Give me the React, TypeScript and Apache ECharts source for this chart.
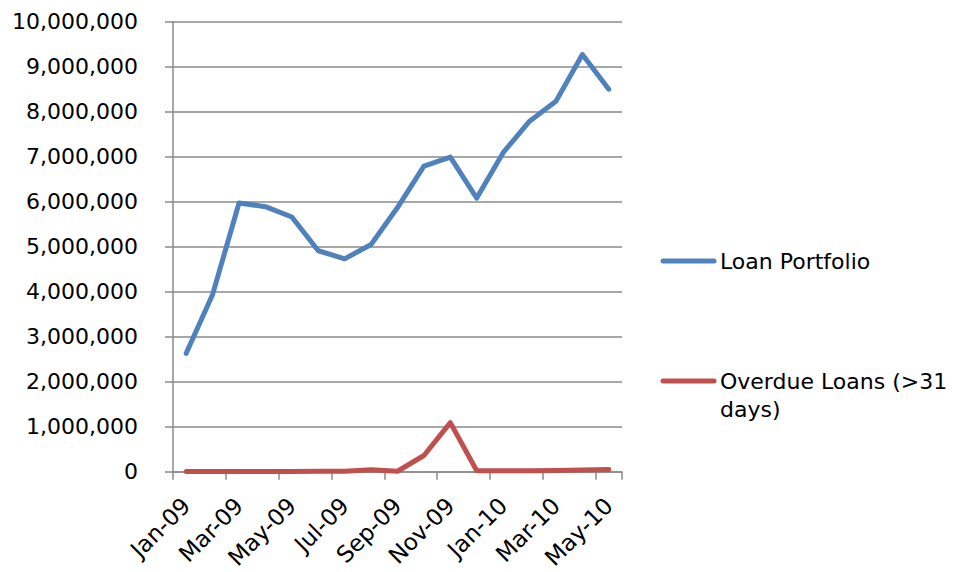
import React, { useEffect, useRef } from "react";
import * as echarts from "echarts";

const months = [
  "Jan-09", "Feb-09", "Mar-09", "Apr-09", "May-09", "Jun-09", "Jul-09", "Aug-09", "Sep-09",
  "Oct-09", "Nov-09", "Dec-09", "Jan-10", "Feb-10", "Mar-10", "Apr-10", "May-10",
];

const loanPortfolio = [
  2630000, 3940000, 5970000, 5890000, 5660000, 4910000, 4730000, 5050000, 5870000,
  6790000, 6990000, 6080000, 7090000, 7790000, 8230000, 9270000, 8500000,
];

const overdueLoans = [
  5000, 5000, 5000, 5000, 5000, 8000, 10000, 45000, 10000,
  360000, 1090000, 20000, 20000, 22000, 25000, 38000, 50000,
];

const seriesNames = ["Loan Portfolio", "Overdue Loans (>31 days)"];
const legendLines = [["Loan Portfolio"], ["Overdue Loans (>31", "days)"]];
const seriesColors = ["#4F81BD", "#C0504D"];

const FONT = "'DejaVu Sans', Verdana, sans-serif";
const FONT_SIZE = 22;
const GRID_GRAY = "#8a8a8a";

export default function App() {
  const ref = useRef<HTMLDivElement>(null);

  useEffect(() => {
    if (!ref.current) return;
    const chart = echarts.init(ref.current, null, { renderer: "svg" });

    // Hand-placed legend entries: swatch line plus wrapped label lines,
    // with the swatch aligned to the first text line.
    const legendTops = [261, 381];
    const lineStep = 28;
    const legendGraphics = seriesNames.map((name, i) => ({
      type: "group",
      id: "legend-" + i,
      children: [
        {
          type: "line",
          shape: { x1: 663, y1: legendTops[i], x2: 714, y2: legendTops[i] },
          style: { stroke: seriesColors[i], lineWidth: 5, lineCap: "round" },
        },
        ...legendLines[i].map((txt, j) => ({
          type: "text",
          x: 720,
          y: legendTops[i] + j * lineStep,
          style: {
            text: txt,
            fontFamily: FONT,
            fontSize: FONT_SIZE,
            fill: "#000",
            textAlign: "left",
            textVerticalAlign: "middle",
          },
        })),
      ],
    }));

    chart.setOption({
      animation: false,
      backgroundColor: "#fff",
      textStyle: { fontFamily: FONT },
      grid: { left: 173, right: 333, top: 21.7, bottom: 100.3, containLabel: false },
      graphic: legendGraphics,
      xAxis: {
        type: "category",
        data: months,
        boundaryGap: true,
        axisLine: { show: true, lineStyle: { color: GRID_GRAY, width: 1.5 } },
        axisTick: { show: true, interval: 1, length: 8, lineStyle: { color: GRID_GRAY, width: 1.5 } },
        axisLabel: {
          interval: 1,
          rotate: 45,
          margin: 30,
          fontFamily: FONT,
          fontSize: 23,
          color: "#000",
        },
        splitLine: { show: false },
      },
      yAxis: {
        type: "value",
        min: 0,
        max: 10000000,
        interval: 1000000,
        axisLine: { show: true, lineStyle: { color: GRID_GRAY, width: 1.5 } },
        axisTick: { show: true, length: 8, lineStyle: { color: GRID_GRAY, width: 1.5 } },
        axisLabel: {
          margin: 35,
          fontFamily: FONT,
          fontSize: FONT_SIZE,
          color: "#000",
          formatter: (v: number) => v.toLocaleString("en-US"),
        },
        splitLine: { show: true, lineStyle: { color: GRID_GRAY, width: 1.5 } },
      },
      series: [
        {
          name: seriesNames[0],
          type: "line",
          data: loanPortfolio,
          showSymbol: false,
          symbol: "none",
          color: seriesColors[0],
          lineStyle: { color: seriesColors[0], width: 5, cap: "round", join: "round" },
        },
        {
          name: seriesNames[1],
          type: "line",
          data: overdueLoans,
          showSymbol: false,
          symbol: "none",
          color: seriesColors[1],
          lineStyle: { color: seriesColors[1], width: 5, cap: "round", join: "round" },
        },
      ],
    });

    return () => chart.dispose();
  }, []);

  return (
    <div
      ref={ref}
      style={{ position: "fixed", left: 0, top: 0, width: 955, height: 572 }}
    />
  );
}
